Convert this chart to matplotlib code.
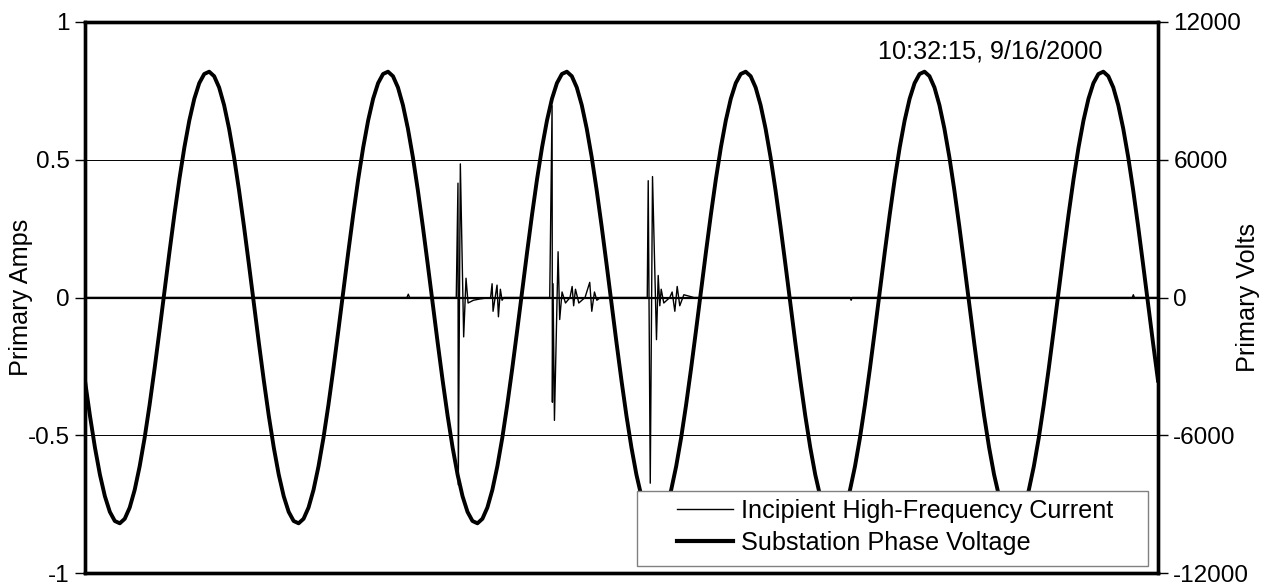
import matplotlib
matplotlib.use('Agg')
from matplotlib import pyplot as plt
from matplotlib.patches import Rectangle
import numpy as np

plt.rcParams['font.family'] = ['Liberation Sans', 'DejaVu Sans']
plt.rcParams['axes.unicode_minus'] = False

volts = [
    -3622, -5156, -6533, -7712, -8655, -9337, -9735, -9836, -9639, -9149, -8381, -7358, -6117, -4680, -3106, -1438, 275, 1979,
    3622, 5156, 6533, 7712, 8655, 9337, 9735, 9836, 9639, 9149, 8381, 7358, 6117, 4680, 3106, 1438, -275, -1979,
    -3622, -5156, -6533, -7712, -8655, -9337, -9735, -9836, -9639, -9149, -8381, -7358, -6117, -4680, -3106, -1438, 275, 1979,
    3622, 5156, 6533, 7712, 8655, 9337, 9735, 9836, 9639, 9149, 8381, 7358, 6117, 4680, 3106, 1438, -275, -1979,
    -3622, -5156, -6533, -7712, -8655, -9337, -9735, -9836, -9639, -9149, -8381, -7358, -6117, -4680, -3106, -1438, 275, 1979,
    3622, 5156, 6533, 7712, 8655, 9337, 9735, 9836, 9639, 9149, 8381, 7358, 6117, 4680, 3106, 1438, -275, -1979,
    -3622, -5156, -6533, -7712, -8655, -9337, -9735, -9836, -9639, -9149, -8381, -7358, -6117, -4680, -3106, -1438, 275, 1979,
    3622, 5156, 6533, 7712, 8655, 9337, 9735, 9836, 9639, 9149, 8381, 7358, 6117, 4680, 3106, 1438, -275, -1979,
    -3622, -5156, -6533, -7712, -8655, -9337, -9735, -9836, -9639, -9149, -8381, -7358, -6117, -4680, -3106, -1438, 275, 1979,
    3622, 5156, 6533, 7712, 8655, 9337, 9735, 9836, 9639, 9149, 8381, 7358, 6117, 4680, 3106, 1438, -275, -1979,
    -3622, -5156, -6533, -7712, -8655, -9337, -9735, -9836, -9639, -9149, -8381, -7358, -6117, -4680, -3106, -1438, 275, 1979,
    3622, 5156, 6533, 7712, 8655, 9337, 9735, 9836, 9639, 9149, 8381, 7358, 6117, 4680, 3106, 1438, -275, -1979,
    -3622,
]
volts_ms = np.linspace(0, 100, len(volts))

# Incipient high-frequency current (A)
amps_ms = [0, 30.0, 30.13, 30.25,
           34.6, 34.76, 34.79, 34.98, 35.29, 35.51, 35.7, 36.2, 36.85,
           37.8, 37.94, 38.03, 38.4, 38.53, 38.71, 38.87, 39.02,
           43.31, 43.53, 43.56, 43.62, 43.75, 44.09, 44.24, 44.46, 44.78,
           45.2, 45.4, 45.54, 45.71, 46.02, 46.6, 47.04, 47.23, 47.48, 47.7, 48.04,
           52.4, 52.49, 52.68, 52.89, 53.26, 53.42, 53.57, 53.7, 53.94,
           54.5, 54.72, 54.97, 55.19, 55.43, 55.81, 56.75,
           71.3, 71.4, 71.5, 97.6, 97.7, 97.8, 100]
amps = [0, 0, 0.012, 0,
        0, 0.415, -0.68, 0.485, -0.143, 0.07, -0.02, -0.01, -0.005,
        0, 0.05, -0.05, 0.045, -0.07, 0.03, -0.01, 0,
        0, 0.696, -0.38, 0.05, -0.446, 0.166, -0.08, 0.02, -0.02,
        0, 0.04, -0.03, 0.03, -0.02, 0, 0.055, -0.05, 0.02, -0.01, 0,
        0, 0.424, -0.674, 0.439, -0.153, 0.08, -0.03, 0.03, -0.02,
        0, 0.02, -0.05, 0.04, -0.03, 0.01, 0,
        0, -0.01, 0, 0, 0.01, 0, 0]

fs = 18.2
W, H = 1270, 584
fig = plt.figure(figsize=(W / 100, H / 100), dpi=100)
ax = fig.add_axes([85 / W, 1 - 573 / H, (1158 - 85) / W, (573 - 22) / H])
ax2 = ax.twinx()

ax.plot(amps_ms, amps, color='black', lw=1.0)
ax.axhline(0, color='black', lw=1.6, zorder=1)
ax.set_ylim(-1, 1)
ax.set_yticks([-1, -0.5, 0, 0.5, 1])
ax.set_yticklabels(['-1', '-0.5', '0', '0.5', '1'])
ax.yaxis.grid(True, color='black', lw=0.7)
ax.set_xlim(0, 100)
ax.set_xticks([])
ax.set_ylabel('Primary Amps', fontsize=fs)
ax.yaxis.set_label_coords(-0.048, 0.5)

ax2.plot(volts_ms, volts, color='black', lw=2.8, solid_joinstyle='round')
ax2.set_ylim(-12000, 12000)
ax2.set_yticks([-12000, -6000, 0, 6000, 12000])
ax2.set_ylabel('Primary Volts', fontsize=fs)
ax2.yaxis.set_label_coords(1.073, 0.5)

for a in (ax, ax2):
    a.tick_params(axis='y', labelsize=17.5, direction='out', length=7, width=1, pad=4)
    for s in a.spines.values():
        s.set_linewidth(2.4)

ax2.text((1102 - 85) / 1073, (573 - 52) / 551, '10:32:15, 9/16/2000', transform=ax.transAxes,
         ha='right', va='center', fontsize=fs)

# legend frame drawn on the figure, above the plot lines
fig.patches.append(Rectangle((637 / W, 1 - 566 / H), (1148 - 637) / W, 75 / H,
                             transform=fig.transFigure, facecolor='white',
                             edgecolor='#808080', lw=1.0, zorder=3))
h1, = ax.plot([], [], color='black', lw=1.0)
h2, = ax.plot([], [], color='black', lw=3.0)
fig.legend([h1, h2], ['Incipient High-Frequency Current', 'Substation Phase Voltage'],
           loc='upper left', bbox_to_anchor=(677 / W, 1 - 499 / H),
           frameon=False, fontsize=fs, handlelength=2.2, handletextpad=0.32,
           labelspacing=0.3, borderpad=0, borderaxespad=0)

fig.savefig('out.png', dpi=100)
